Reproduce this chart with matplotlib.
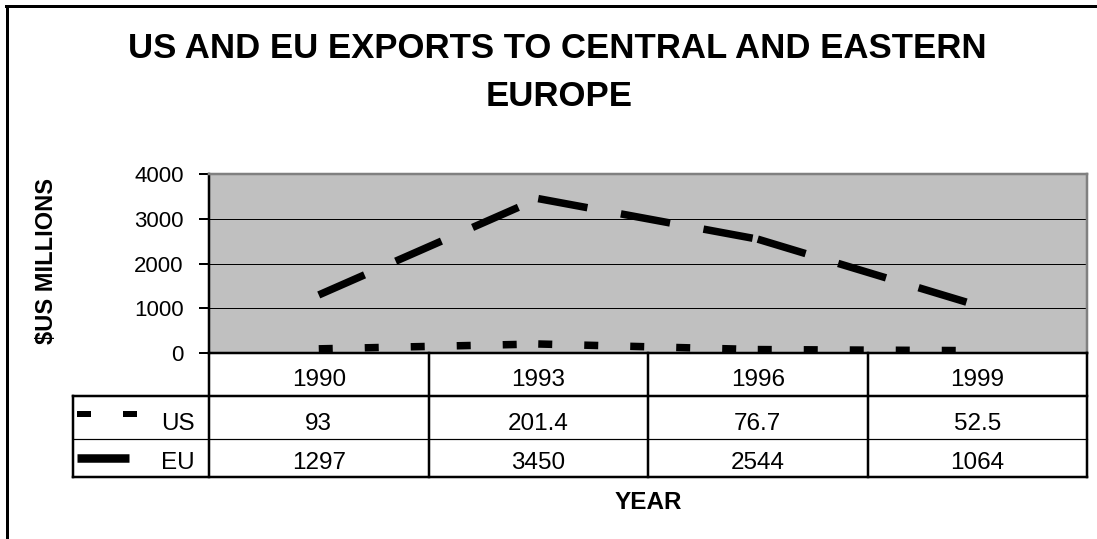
import matplotlib
matplotlib.use("Agg")
import matplotlib.pyplot as plt
from matplotlib.lines import Line2D

plt.rcParams['font.family'] = ['Liberation Sans', 'DejaVu Sans']
plt.rcParams['lines.scale_dashes'] = False

# Data
years = ['1990', '1993', '1996', '1999']
us_exports = [93, 201.4, 76.7, 52.5]
eu_exports = [1297, 3450, 2544, 1064]
series_names = ['US', 'EU']
y_ticks = [0, 1000, 2000, 3000, 4000]

W, H, DPI = 1097, 539, 100
fig = plt.figure(figsize=(W / DPI, H / DPI), dpi=DPI)

def fx(x):
    return x / W

def fy(y):
    return 1 - y / H

PT = 72 / DPI  # points per pixel

# Outer chart frame (left and top edges visible)
fig.add_artist(Line2D([fx(7), fx(7)], [fy(540), fy(6)], color='black', lw=3 * PT))
fig.add_artist(Line2D([fx(6), fx(1100)], [fy(6), fy(6)], color='black', lw=3 * PT))

# Titles
fig.text(fx(557), fy(58), 'US AND EU EXPORTS TO CENTRAL AND EASTERN',
         ha='center', va='baseline', fontsize=25, fontweight='bold')
fig.text(fx(559), fy(106), 'EUROPE',
         ha='center', va='baseline', fontsize=25, fontweight='bold')

# Plot area
pl, pr, pt_, pb = 209, 1087, 174, 353
ax = fig.add_axes([fx(pl), fy(pb), (pr - pl) / W, (pb - pt_) / H])
ax.set_facecolor('#c0c0c0')
x = list(range(len(years)))
ax.set_xlim(-0.5, len(years) - 0.5)
ax.set_ylim(0, 4000)
ax.set_yticks(y_ticks)
ax.set_yticklabels([str(v) for v in y_ticks], fontsize=16)
ax.tick_params(axis='y', direction='out', length=10 * PT, width=2 * PT, pad=11)
ax.set_xticks([])
ax.grid(axis='y', color='black', lw=1 * PT)
ax.set_axisbelow(True)
for side in ('left', 'bottom'):
    ax.spines[side].set_color('black')
    ax.spines[side].set_linewidth(2.5 * PT)
for side in ('top', 'right'):
    ax.spines[side].set_color('#808080')
    ax.spines[side].set_linewidth(2.5 * PT)

styles = {
    'US': dict(lw=7.5 * PT, dash=(14 * PT, 32 * PT)),
    'EU': dict(lw=7.5 * PT, dash=(50 * PT, 34 * PT)),
}
# Each segment restarts its dash pattern at the data point
for name, vals in (('US', us_exports), ('EU', eu_exports)):
    st = styles[name]
    for i in range(len(vals) - 1):
        ax.plot(x[i:i + 2], vals[i:i + 2], color='black', lw=st['lw'],
                linestyle=(0, st['dash']), dash_capstyle='butt',
                solid_capstyle='butt', zorder=3)

fig.text(fx(47), fy(261), '$US MILLIONS', rotation=90, ha='center', va='center',
         fontsize=17, fontweight='bold')

# Data table below the plot
tl, tb = 73, 477
row_edges = [353, 396, 439, 477]
unit = (pr - pl) / len(years)
tab = fig.add_axes([fx(tl), fy(tb), (pr - tl) / W, (tb - pb) / H])
tab.set_xlim(-0.5 - (pl - tl) / unit, len(years) - 0.5)
tab.set_ylim(tb, pb)
tab.axis('off')

lw2 = 2.5 * PT
bounds = [i - 0.5 for i in range(len(years) + 1)]
for b in bounds:
    tab.plot([b, b], [row_edges[0], row_edges[-1]], color='black', lw=lw2,
             clip_on=False, solid_capstyle='projecting')
xl = tab.get_xlim()[0]
tab.plot([xl, xl], [row_edges[1], row_edges[-1]], color='black', lw=lw2, clip_on=False,
         solid_capstyle='projecting')
tab.plot([xl, bounds[-1]], [row_edges[1], row_edges[1]], color='black', lw=lw2, clip_on=False)
tab.plot([xl, bounds[-1]], [row_edges[2], row_edges[2]], color='black', lw=1.2 * PT, clip_on=False)
tab.plot([xl, bounds[-1]], [row_edges[3], row_edges[3]], color='black', lw=lw2, clip_on=False,
         solid_capstyle='projecting')

baselines = [386, 430, 469]
fs_tab = 17.5
for i, yr in enumerate(years):
    tab.text(i, baselines[0], yr, ha='center', va='baseline', fontsize=fs_tab)
    tab.text(i, baselines[1], f'{us_exports[i]:g}', ha='center', va='baseline', fontsize=fs_tab)
    tab.text(i, baselines[2], f'{eu_exports[i]:g}', ha='center', va='baseline', fontsize=fs_tab)

# Series keys and names in the first column
key_x0 = xl + 4 / unit
for row, name in zip((1, 2), series_names):
    tab.text(-0.5 - 14 / unit, baselines[row], name, ha='right', va='baseline', fontsize=fs_tab)
us_mid = (row_edges[1] + row_edges[2]) / 2 - 4
eu_mid = (row_edges[2] + row_edges[3]) / 2
tab.plot([key_x0, key_x0 + 60 / unit], [us_mid, us_mid], color='black', lw=6 * PT,
         linestyle=(0, styles['US']['dash']), dash_capstyle='butt', clip_on=False)
tab.plot([key_x0, key_x0 + 52 / unit], [eu_mid, eu_mid], color='black', lw=8.5 * PT,
         solid_capstyle='butt', clip_on=False)

fig.text(fx(648), fy(509), 'YEAR', ha='center', va='baseline', fontsize=17.5, fontweight='bold')

fig.savefig('out.png', dpi=DPI)
